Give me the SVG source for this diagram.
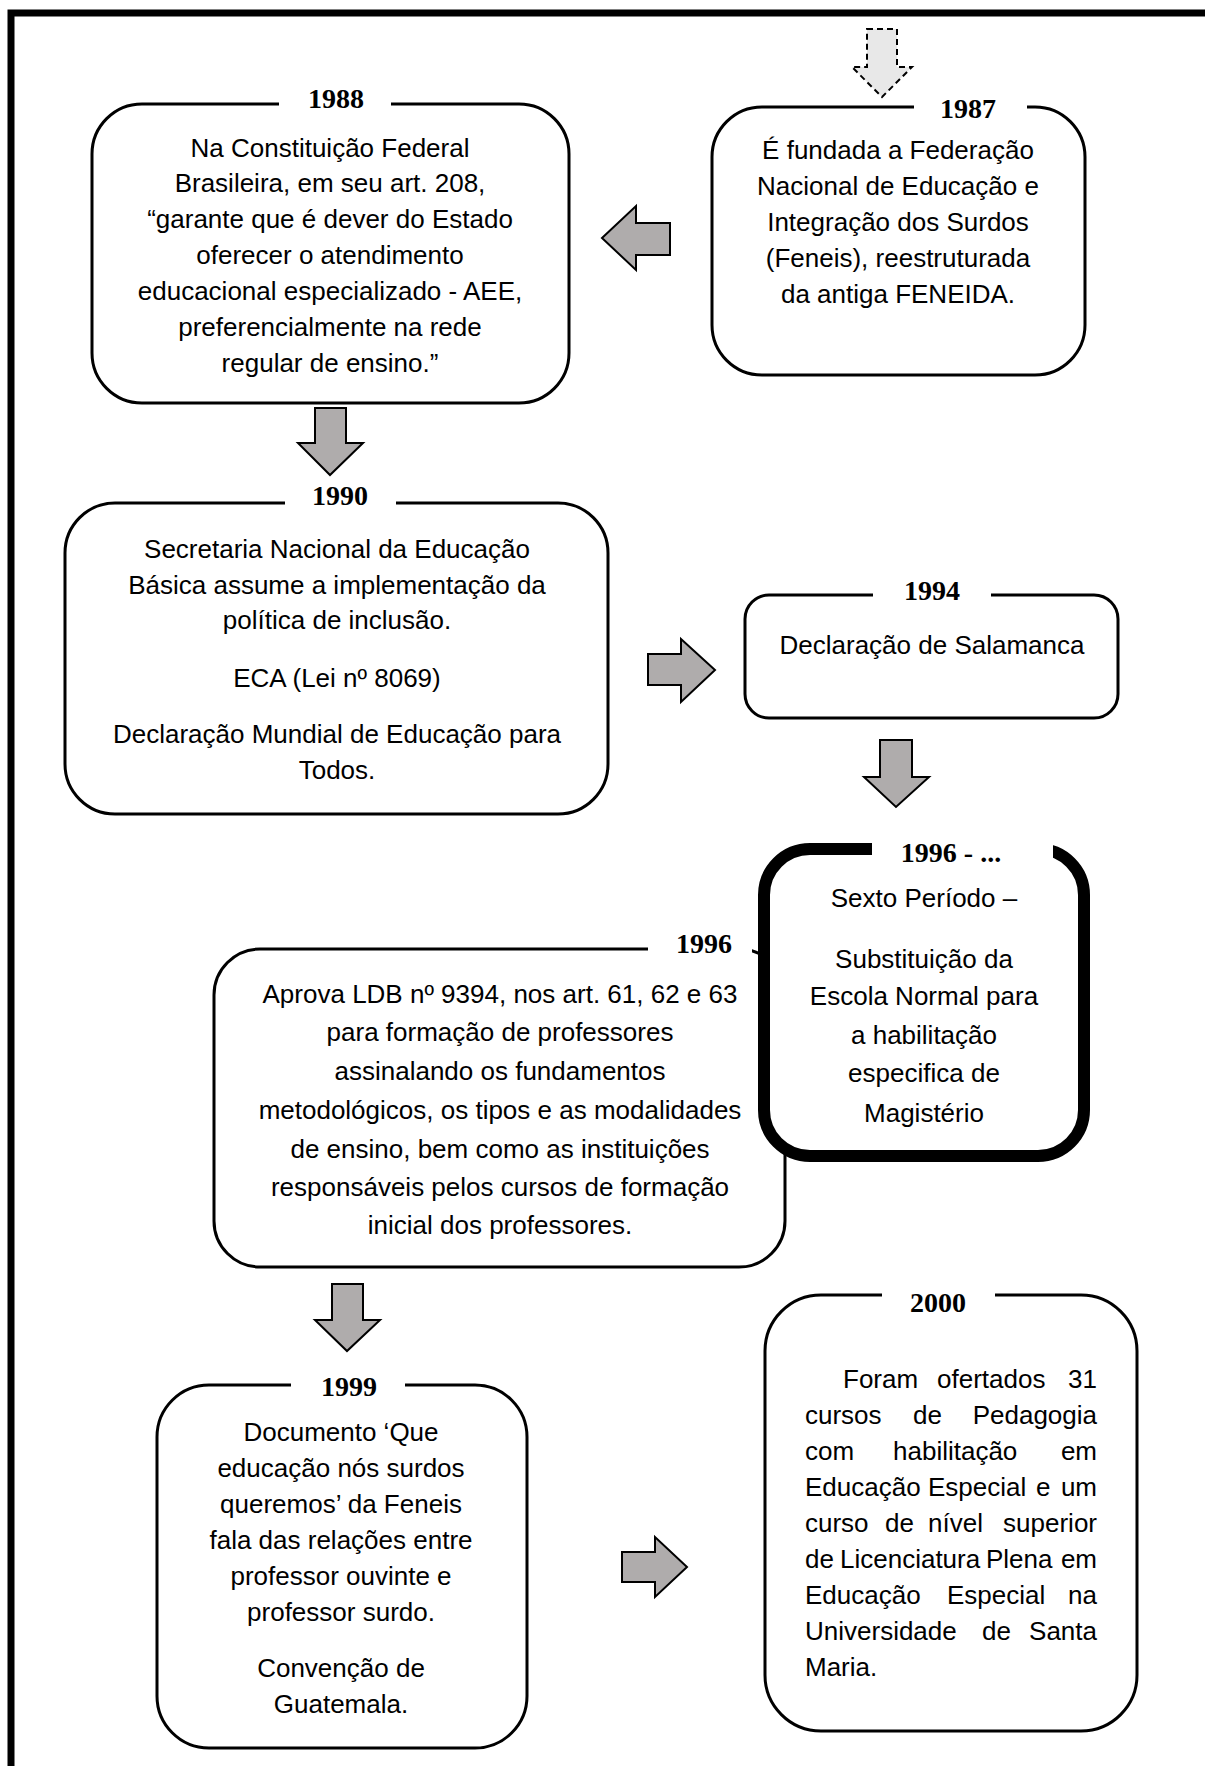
<svg xmlns="http://www.w3.org/2000/svg" width="1205" height="1766" viewBox="0 0 1205 1766">
  <style>
    .box { fill: #ffffff; stroke: #000000; stroke-width: 3; }
    .thick { fill: #ffffff; stroke: #000000; stroke-width: 12; }
    .gap { fill: #ffffff; stroke: none; }
    .year { font-family: "Liberation Serif", "Times New Roman", serif; font-weight: bold; font-size: 28px; text-anchor: middle; fill: #000000; }
    .txt { font-family: "Liberation Sans", Arial, sans-serif; font-size: 26px; text-anchor: middle; fill: #000000; }
    .jst { font-family: "Liberation Sans", Arial, sans-serif; font-size: 26px; fill: #000000; }
    .end { text-anchor: end; }
    .arrow { fill: #afacac; stroke: #000000; stroke-width: 2; stroke-linejoin: miter; }
    .dashed { fill: #e8e8e8; stroke: #000000; stroke-width: 2; stroke-dasharray: 6 4; }
  </style>

  <rect x="0" y="0" width="1205" height="1766" fill="#ffffff"/>

  <!-- page frame: top and left rules -->
  <path d="M11,1766 V13 H1205" fill="none" stroke="#000000" stroke-width="7"/>

  <g id="node-1987">
    <rect class="box" x="712" y="107" width="373" height="268" rx="50" ry="50"/>
    <rect class="gap" x="914" y="98" width="113" height="18"/>
    <text class="year" x="968" y="118">1987</text>
    <text class="txt" x="898" y="159">É fundada a Federação</text>
    <text class="txt" x="898" y="195">Nacional de Educação e</text>
    <text class="txt" x="898" y="231">Integração dos Surdos</text>
    <text class="txt" x="898" y="267">(Feneis), reestruturada</text>
    <text class="txt" x="898" y="303">da antiga FENEIDA.</text>
  </g>

  <g id="node-1988">
    <rect class="box" x="92" y="104" width="477" height="299" rx="50" ry="50"/>
    <rect class="gap" x="279" y="95" width="112" height="18"/>
    <text class="year" x="336" y="108">1988</text>
    <text class="txt" x="330" y="157">Na Constituição Federal</text>
    <text class="txt" x="330" y="192">Brasileira, em seu art. 208,</text>
    <text class="txt" x="330" y="228">“garante que é dever do Estado</text>
    <text class="txt" x="330" y="264">oferecer o atendimento</text>
    <text class="txt" x="330" y="300">educacional especializado - AEE,</text>
    <text class="txt" x="330" y="336">preferencialmente na rede</text>
    <text class="txt" x="330" y="372">regular de ensino.”</text>
  </g>

  <g id="node-1990">
    <rect class="box" x="65" y="503" width="543" height="311" rx="50" ry="50"/>
    <rect class="gap" x="285" y="494" width="111" height="18"/>
    <text class="year" x="340" y="505">1990</text>
    <text class="txt" x="337" y="558">Secretaria Nacional da Educação</text>
    <text class="txt" x="337" y="594">Básica assume a implementação da</text>
    <text class="txt" x="337" y="629">política de inclusão.</text>
    <text class="txt" x="337" y="687">ECA (Lei nº 8069)</text>
    <text class="txt" x="337" y="743">Declaração Mundial de Educação para</text>
    <text class="txt" x="337" y="779">Todos.</text>
  </g>

  <g id="node-1994">
    <rect class="box" x="745" y="595" width="373" height="123" rx="24" ry="24"/>
    <rect class="gap" x="873" y="586" width="118" height="18"/>
    <text class="year" x="932" y="600">1994</text>
    <text class="txt" x="932" y="654">Declaração de Salamanca</text>
  </g>

  <g id="node-1996-ldb">
    <rect class="box" x="214" y="949" width="571" height="318" rx="46" ry="46"/>
    <rect class="gap" x="648" y="940" width="104" height="18"/>
    <text class="year" x="704" y="953">1996</text>
    <text class="txt" x="500" y="1003">Aprova LDB nº 9394, nos art. 61, 62 e 63</text>
    <text class="txt" x="500" y="1041">para formação de professores</text>
    <text class="txt" x="500" y="1080">assinalando os fundamentos</text>
    <text class="txt" x="500" y="1119">metodológicos, os tipos e as modalidades</text>
    <text class="txt" x="500" y="1158">de ensino, bem como as instituições</text>
    <text class="txt" x="500" y="1196">responsáveis pelos cursos de formação</text>
    <text class="txt" x="500" y="1234">inicial dos professores.</text>
  </g>

  <g id="node-1996-periodo">
    <rect class="thick" x="764" y="849" width="320" height="307" rx="46" ry="46"/>
    <rect class="gap" x="872" y="840" width="181" height="18"/>
    <text class="year" x="951" y="862">1996 - ...</text>
    <text class="txt" x="924" y="907">Sexto Período –</text>
    <text class="txt" x="924" y="968">Substituição da</text>
    <text class="txt" x="924" y="1005">Escola Normal para</text>
    <text class="txt" x="924" y="1044">a habilitação</text>
    <text class="txt" x="924" y="1082">especifica de</text>
    <text class="txt" x="924" y="1122">Magistério</text>
  </g>

  <g id="node-1999">
    <rect class="box" x="157" y="1385" width="370" height="363" rx="52" ry="52"/>
    <rect class="gap" x="291" y="1376" width="114" height="18"/>
    <text class="year" x="349" y="1396">1999</text>
    <text class="txt" x="341" y="1441">Documento ‘Que</text>
    <text class="txt" x="341" y="1477">educação nós surdos</text>
    <text class="txt" x="341" y="1513">queremos’ da Feneis</text>
    <text class="txt" x="341" y="1549">fala das relações entre</text>
    <text class="txt" x="341" y="1585">professor ouvinte e</text>
    <text class="txt" x="341" y="1621">professor surdo.</text>
    <text class="txt" x="341" y="1677">Convenção de</text>
    <text class="txt" x="341" y="1713">Guatemala.</text>
  </g>

  <g id="node-2000">
    <rect class="box" x="765" y="1295" width="372" height="436" rx="56" ry="56"/>
    <rect class="gap" x="882" y="1286" width="113" height="18"/>
    <text class="year" x="938" y="1312">2000</text>
    <!-- justified paragraph, one word at a time -->
    <text class="jst" x="843" y="1388">Foram</text>
    <text class="jst" x="937" y="1388">ofertados</text>
    <text class="jst end" x="1097" y="1388">31</text>
    <text class="jst" x="805" y="1424">cursos</text>
    <text class="jst" x="913" y="1424">de</text>
    <text class="jst end" x="1097" y="1424">Pedagogia</text>
    <text class="jst" x="805" y="1460">com</text>
    <text class="jst" x="893" y="1460">habilitação</text>
    <text class="jst end" x="1097" y="1460">em</text>
    <text class="jst" x="805" y="1496">Educação</text>
    <text class="jst" x="928" y="1496">Especial</text>
    <text class="jst" x="1036" y="1496">e</text>
    <text class="jst end" x="1097" y="1496">um</text>
    <text class="jst" x="805" y="1532">curso</text>
    <text class="jst" x="885" y="1532">de</text>
    <text class="jst" x="928" y="1532">nível</text>
    <text class="jst end" x="1097" y="1532">superior</text>
    <text class="jst" x="805" y="1568">de</text>
    <text class="jst" x="840" y="1568">Licenciatura</text>
    <text class="jst" x="986" y="1568">Plena</text>
    <text class="jst end" x="1097" y="1568">em</text>
    <text class="jst" x="805" y="1604">Educação</text>
    <text class="jst" x="947" y="1604">Especial</text>
    <text class="jst end" x="1097" y="1604">na</text>
    <text class="jst" x="805" y="1640">Universidade</text>
    <text class="jst" x="982" y="1640">de</text>
    <text class="jst end" x="1097" y="1640">Santa</text>
    <text class="jst" x="805" y="1676">Maria.</text>
  </g>

  <g id="connectors">
    <path class="dashed" d="M867,29 H897 V67 H912 L882,97 L852,67 H867 Z"/>
    <path class="arrow" d="M602,238 L636,206 V223 H670 V255 H636 V270 Z"/>
    <path class="arrow" d="M315,408 H346 V443 H363 L330,475 L298,443 H315 Z"/>
    <path class="arrow" d="M648,654 H681 V639 L715,670 L681,702 V685 H648 Z"/>
    <path class="arrow" d="M880,740 H912 V777 H929 L896,807 L864,777 H880 Z"/>
    <path class="arrow" d="M332,1284 H363 V1320 H380 L347,1351 L315,1320 H332 Z"/>
    <path class="arrow" d="M622,1552 H655 V1537 L687,1567 L655,1597 V1582 H622 Z"/>
  </g>
</svg>
